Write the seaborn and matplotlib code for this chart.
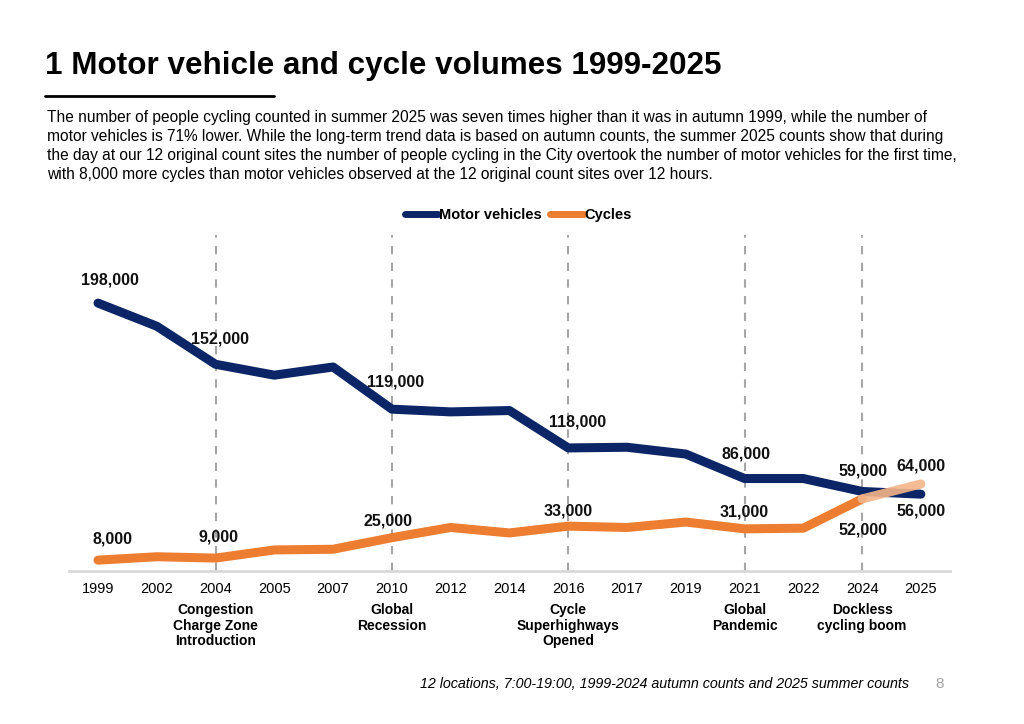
import matplotlib
matplotlib.use("Agg")
import matplotlib.pyplot as plt
import matplotlib.transforms as mtransforms
import seaborn as sns
import pandas as pd

# data
years = ["1999", "2002", "2004", "2005", "2007", "2010", "2012", "2014",
         "2016", "2017", "2019", "2021", "2022", "2024", "2025"]
motor = [197000, 180000, 152000, 144000, 150000, 119000, 117000, 118000,
         90500, 91000, 86000, 68000, 68000, 58500, 56500]
cycles = [8000, 10500, 9500, 15500, 16000, 24500, 32000, 28000,
          33000, 32000, 36000, 31000, 31500, 53000, 64000]

# labels shown on the chart: (year, text, dx px, dy px)
motor_labels = [("1999", "198,000", 12, 23), ("2004", "152,000", 4, 25),
                ("2010", "119,000", 4, 27), ("2016", "118,000", 9, 26),
                ("2021", "86,000", 1, 25), ("2024", "59,000", 1, 20),
                ("2025", "56,000", 0, -17)]
cycle_labels = [("1999", "8,000", 15, 21), ("2004", "9,000", 3, 21),
                ("2010", "25,000", -4, 17), ("2016", "33,000", 0, 15),
                ("2021", "31,000", 0, 17), ("2024", "52,000", 1, -31),
                ("2025", "64,000", 0, 18)]

events = [("2004", "Congestion\nCharge Zone\nIntroduction"),
          ("2010", "Global\nRecession"),
          ("2016", "Cycle\nSuperhighways\nOpened"),
          ("2021", "Global\nPandemic"),
          ("2024", "Dockless\ncycling boom")]

navy = "#0b2566"
orange = "#ed7d31"
light_orange = "#f4b589"

sns.set_theme(style="white")
plt.rcParams["font.family"] = ["Liberation Sans", "DejaVu Sans"]
plt.rcParams["text.color"] = "black"
plt.rcParams["xtick.color"] = "black"

df = pd.DataFrame({"pos": range(len(years)), "year": years,
                   "Motor vehicles": motor, "Cycles": cycles})

fig = plt.figure(figsize=(10.24, 7.24), dpi=100)
ax = fig.add_axes([0.067, 0.2113, 0.861, 0.464])

# dashed event markers
for yr, _ in events:
    ax.axvline(years.index(yr), color="#a6a6a6", lw=1.5, ls=(0, (4, 4)), zorder=1)

sns.lineplot(data=df, x="pos", y="Motor vehicles", ax=ax, color=navy, lw=6.5,
             solid_capstyle="round", solid_joinstyle="round", label="Motor vehicles", zorder=3)
sns.lineplot(data=df.iloc[:-1], x="pos", y="Cycles", ax=ax, color=orange, lw=6.5,
             solid_capstyle="round", solid_joinstyle="round", label="Cycles", zorder=3)
sns.lineplot(data=df.iloc[-2:], x="pos", y="Cycles", ax=ax, color=light_orange, lw=6.5,
             solid_capstyle="round", alpha=0.9, legend=False, zorder=4)

ax.set_xlim(-0.5, len(years) - 0.5)
ax.set_ylim(0, 247000)
ax.set_xticks(range(len(years)))
ax.set_xticklabels(years, fontsize=10.5)
ax.set_yticks([])
ax.set_xlabel("")
ax.set_ylabel("")
ax.tick_params(axis="x", length=0, pad=8)
for s in ["top", "left", "right"]:
    ax.spines[s].set_visible(False)
ax.spines["bottom"].set_color("#d9d9d9")
ax.spines["bottom"].set_linewidth(2)

for yr, txt, dx, dy in motor_labels:
    i = years.index(yr)
    ax.annotate(txt, (i, motor[i]), xytext=(dx, dy), textcoords="offset pixels",
                ha="center", va="center", fontsize=11.5, fontweight="bold", color="#111111")
for yr, txt, dx, dy in cycle_labels:
    i = years.index(yr)
    ax.annotate(txt, (i, cycles[i]), xytext=(dx, dy), textcoords="offset pixels",
                ha="center", va="center", fontsize=11.5, fontweight="bold", color="#111111")

trans = mtransforms.blended_transform_factory(ax.transData, ax.transAxes)
for yr, txt in events:
    ax.text(years.index(yr), -0.095, txt, transform=trans, ha="center", va="top",
            fontsize=10, fontweight="bold", linespacing=1.15)

leg = ax.legend(loc="center", bbox_to_anchor=(0.51, 1.06), ncol=2, frameon=False,
                handlelength=2.3, handletextpad=0.05, columnspacing=0.6,
                prop={"weight": "bold", "size": 10.5})
for h in leg.get_lines():
    h.set_linewidth(5)
    h.set_solid_capstyle("round")

# header text
fig.text(0.044, 1 - 66 / 724, "1 Motor vehicle and cycle volumes 1999-2025",
         fontsize=22.6, fontweight="bold", va="center", ha="left")
fig.add_artist(plt.Line2D([0.044, 0.268], [1 - 96 / 724] * 2, color="black", lw=2))
body = ("The number of people cycling counted in summer 2025 was seven times higher than it was in autumn 1999, while the number of\n"
        "motor vehicles is 71% lower. While the long-term trend data is based on autumn counts, the summer 2025 counts show that during\n"
        "the day at our 12 original count sites the number of people cycling in the City overtook the number of motor vehicles for the first time,\n"
        "with 8,000 more cycles than motor vehicles observed at the 12 original count sites over 12 hours.")
fig.text(0.046, 1 - 110 / 724, body, fontsize=11.2, va="top", ha="left", linespacing=1.34)

fig.text(0.888, 1 - 684 / 724, "12 locations, 7:00-19:00, 1999-2024 autumn counts and 2025 summer counts",
         fontsize=10.3, style="italic", ha="right", va="center")
fig.text(0.918, 1 - 684 / 724, "8", fontsize=11, color="#a0a0a0", ha="center", va="center")

fig.savefig("out.png", dpi=100)
